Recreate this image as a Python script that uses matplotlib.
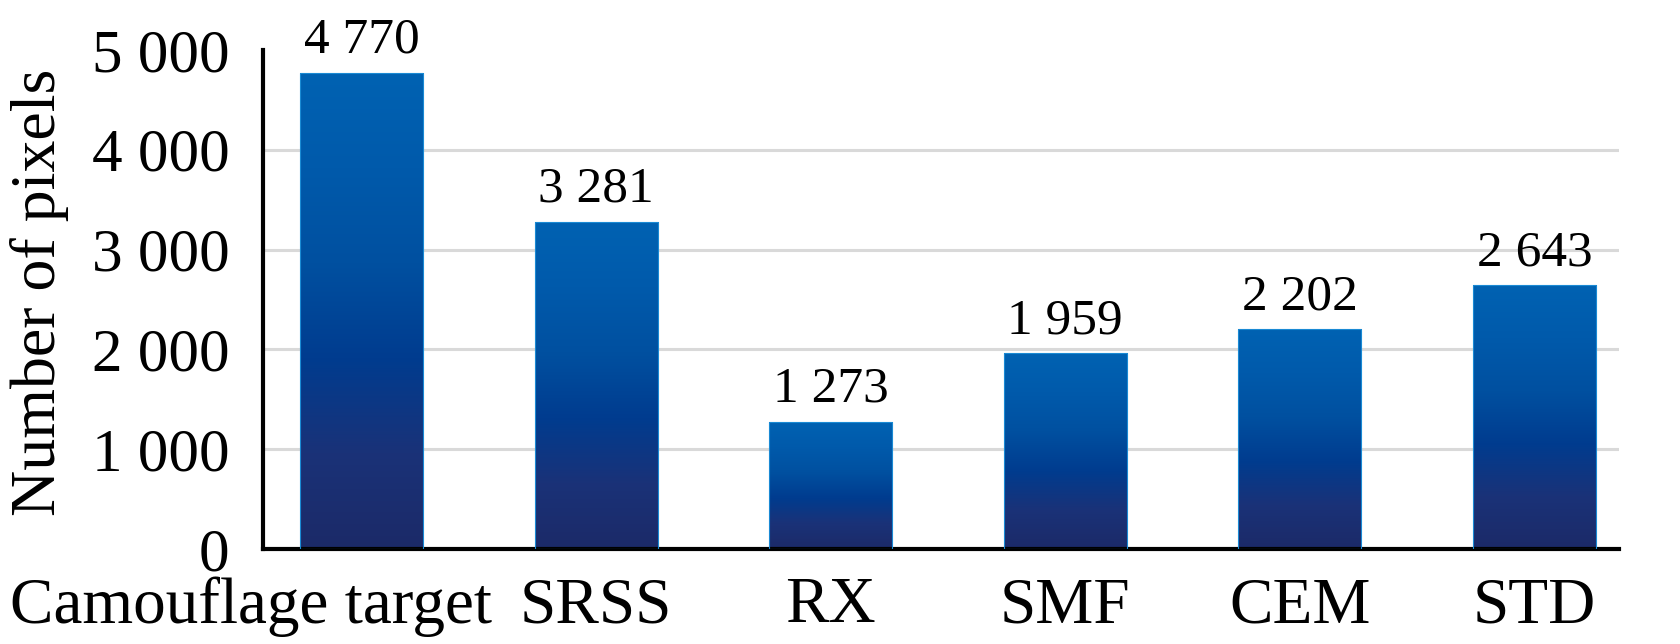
import numpy as np
import matplotlib.pyplot as plt
from matplotlib.colors import LinearSegmentedColormap
from matplotlib.transforms import ScaledTranslation

# Pixel counts per method
methods = ['Camouflage target', 'SRSS', 'RX', 'SMF', 'CEM', 'STD']
pixels = [4770, 3281, 1273, 1959, 2202, 2643]
yticks = [0, 1000, 2000, 3000, 4000, 5000]

plt.rcParams['font.family'] = ['Liberation Serif', 'DejaVu Serif']

def fmt(v):
    # thousands separated by a space
    return f'{v:,}'.replace(',', ' ')

fig = plt.figure(figsize=(16.81, 6.44), dpi=100)
ax = fig.add_axes([0.1565, 0.1475, 0.8065, 0.775])

x = np.arange(len(methods))
width = 0.525
bars = ax.bar(x, pixels, width=width, color='none', edgecolor='#1a8ad4',
              linewidth=0.8, zorder=3)

# vertical gradient inside each bar
cmap = LinearSegmentedColormap.from_list(
    'bluegrad', ['#1c2a68', '#1a3278', '#003c8f', '#0050a0', '#005aab', '#0062b2'])
grad = np.linspace(0, 1, 256).reshape(-1, 1)
for b in bars:
    x0, y0 = b.get_x(), b.get_y()
    w, h = b.get_width(), b.get_height()
    im = ax.imshow(grad, cmap=cmap, origin='lower', aspect='auto',
                   extent=[x0, x0 + w, y0, y0 + h], zorder=2)
    im.set_clip_path(b)

for xi, v in zip(x, pixels):
    ax.text(xi, v + 90, fmt(v), ha='center', va='bottom', fontsize=37)

ax.set_xlim(-0.42, 5.36)
ax.set_ylim(0, 5000)
ax.set_yticks(yticks)
ax.set_yticklabels([fmt(t) for t in yticks], fontsize=44)
ax.set_xticks(x)
ax.set_xticklabels(methods, fontsize=47)
ax.tick_params(axis='y', length=0, pad=24)
ax.tick_params(axis='x', length=0, pad=20)
ax.set_ylabel('Number of pixels', fontsize=46)
ax.yaxis.set_label_coords(-0.143, 0.515)

# long first label sits shifted to the left, as in the source figure
lab0 = ax.get_xticklabels()[0]
lab0.set_transform(lab0.get_transform() + ScaledTranslation(-1.11, 0, fig.dpi_scale_trans))

ax.yaxis.grid(True, color='#d9d9d9', linewidth=2.2, zorder=0)
ax.yaxis.get_gridlines()[-1].set_visible(False)
ax.set_axisbelow(True)
for s in ['top', 'right']:
    ax.spines[s].set_visible(False)
ax.spines['left'].set_linewidth(3)
ax.spines['bottom'].set_linewidth(3)

fig.savefig('out.png', dpi=100)
